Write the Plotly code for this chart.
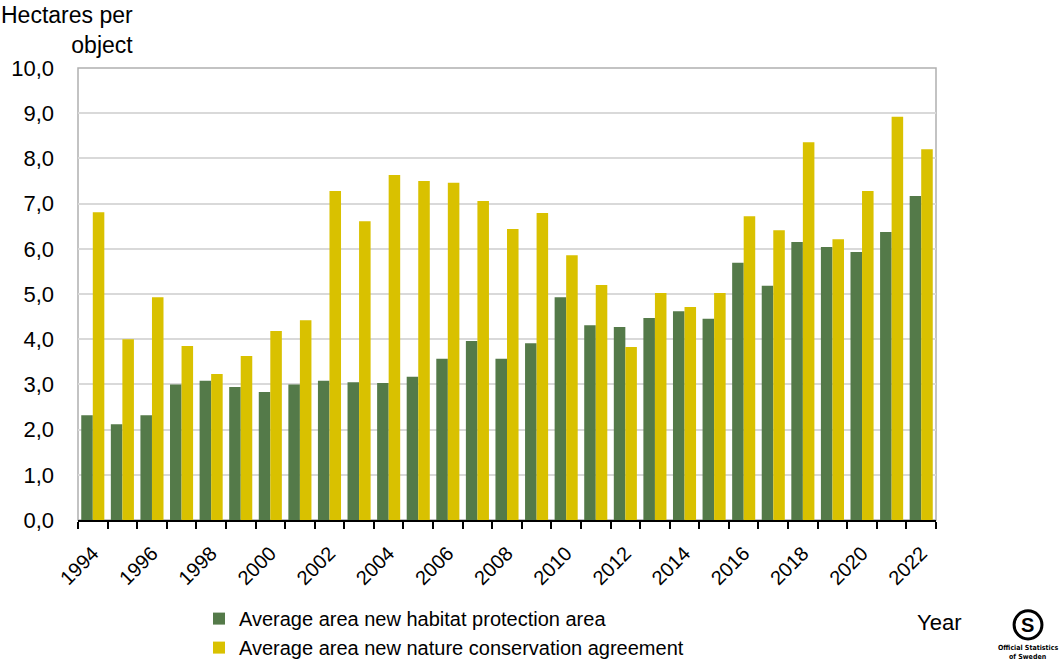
import plotly.graph_objects as go

years = list(range(1994, 2023))
habitat_protection = [2.32, 2.12, 2.32, 3.00, 3.08, 2.94, 2.83, 3.00, 3.08, 3.05,
                      3.03, 3.17, 3.57, 3.96, 3.57, 3.91, 4.93, 4.31, 4.27, 4.47,
                      4.62, 4.45, 5.69, 5.18, 6.15, 6.04, 5.93, 6.37, 7.17]
conservation_agreement = [6.81, 4.00, 4.93, 3.85, 3.23, 3.63, 4.18, 4.42, 7.28, 6.61,
                          7.63, 7.50, 7.46, 7.06, 6.44, 6.79, 5.86, 5.20, 3.83, 5.02,
                          4.71, 5.02, 6.72, 6.41, 8.36, 6.21, 7.28, 8.92, 8.20]
label_years = [y for y in years if y % 2 == 0]

GREEN = "#547A49"
YELLOW = "#D9C100"
FONT = "Liberation Sans, Arial, sans-serif"

fig = go.Figure()
fig.add_trace(go.Bar(x=years, y=habitat_protection, name="Average area new habitat protection area",
                     marker=dict(color=GREEN, line=dict(width=0))))
fig.add_trace(go.Bar(x=years, y=conservation_agreement, name="Average area new nature conservation agreement",
                     marker=dict(color=YELLOW, line=dict(width=0))))

fig.update_layout(
    width=1060, height=660,
    margin=dict(l=78, r=124, t=68, b=140, autoexpand=False),
    paper_bgcolor="white", plot_bgcolor="white",
    barmode="group", bargap=0.22, bargroupgap=0,
    separators=",.",
    font=dict(family=FONT, size=20, color="#000000"),
    showlegend=True,
    legend=dict(orientation="v", x=0.141, xanchor="left", y=-0.175, yanchor="top",
                font=dict(size=20), itemwidth=30, tracegroupgap=0,
                bgcolor="rgba(0,0,0,0)"),
)

fig.update_xaxes(
    range=[1993.5, 2022.5], automargin=False,
    tickmode="array", tickvals=label_years, ticktext=[str(y) for y in label_years],
    tickangle=-45, ticks="", tickfont=dict(size=20), ticklabelstandoff=12,
    showline=True, linecolor="#000000", linewidth=1.5,
    showgrid=False, zeroline=False,
    minor=dict(ticks="outside", tick0=1993.5, dtick=1, ticklen=7,
               tickcolor="#000000", tickwidth=1.5, showgrid=False),
)

fig.update_yaxes(
    range=[0, 10], dtick=1, tickformat=".1f", tickfont=dict(size=22),
    automargin=False, ticklabelstandoff=23,
    showgrid=True, gridcolor="#D9D9D9", gridwidth=1.5,
    showline=False, zeroline=False, ticks="",
)

# plot-area frame (top, left, right)
fig.add_shape(type="rect", xref="paper", yref="paper", x0=0, y0=0, x1=1, y1=1,
              line=dict(color="#B0B0B0", width=1.5), layer="below")

# axis titles
fig.add_annotation(text="Hectares per<br>object", xref="paper", yref="paper",
                   x=0.0664, y=1.018, xanchor="right", yanchor="bottom", align="right",
                   showarrow=False, font=dict(size=23))
fig.add_annotation(text="Year", xref="paper", yref="paper",
                   x=0.9755, y=-0.2257, xanchor="left", yanchor="middle",
                   showarrow=False, font=dict(size=22))

# Official Statistics of Sweden mark
fig.add_shape(type="circle", xref="paper", yref="paper",
              x0=1.091, x1=1.1235, y0=-0.263, y1=-0.201,
              line=dict(color="#000000", width=3))
fig.add_annotation(text="<b>S</b>", xref="paper", yref="paper", x=1.107, y=-0.232,
                   xanchor="center", yanchor="middle",
                   showarrow=False, font=dict(size=20, color="#000000"))
fig.add_annotation(text="<b>Official Statistics</b>", xref="paper", yref="paper",
                   x=1.107, y=-0.283, xanchor="center", yanchor="middle", showarrow=False,
                   font=dict(size=7, family="DejaVu Sans Condensed, sans-serif"))
fig.add_annotation(text="<b>of Sweden</b>", xref="paper", yref="paper",
                   x=1.107, y=-0.303, xanchor="center", yanchor="middle", showarrow=False,
                   font=dict(size=7, family="DejaVu Sans Condensed, sans-serif"))

fig.write_html("out.html")
